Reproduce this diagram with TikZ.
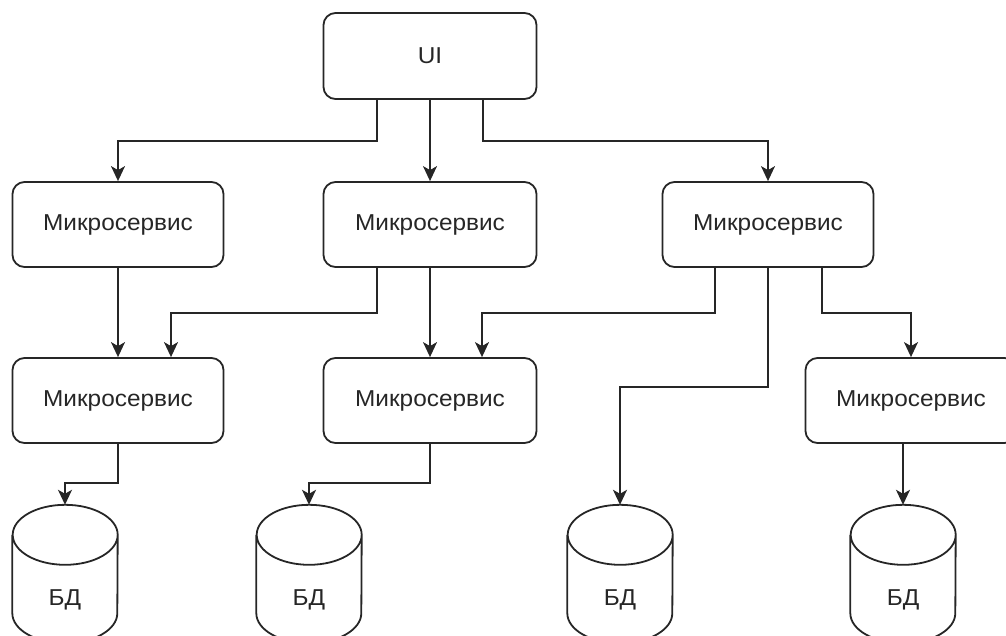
\documentclass[tikz,border=0pt]{standalone}
\usepackage{fontspec}
\setmainfont{Liberation Sans}[FakeStretch=1.06]
\usetikzlibrary{arrows.meta}
\begin{document}
\begin{tikzpicture}[x=1pt,y=-1pt,
  box/.style={draw=black!85, line width=1.8pt, rounded corners=12pt, minimum width=211pt, minimum height=85pt, inner sep=0pt, text=black!85, font=\fontsize{23}{27}\selectfont},
  arr/.style={draw=black!85, line width=1.8pt, -{Stealth[length=15pt,width=14pt,inset=4pt]}},
  dbbox/.style={draw=none, minimum width=105pt, minimum height=138pt, inner sep=0pt},
  dbline/.style={draw=black!85, line width=1.8pt},
  dbtext/.style={text=black!85, inner sep=0pt, font=\fontsize{23}{27}\selectfont}]
\useasboundingbox (0,0) rectangle (1006,635);
\clip (0,0) rectangle (1006,635);

\node[box, minimum width=213pt, minimum height=86pt] (UI) at (430,56) {UI};
\node[box] (m1) at (118,224.5) {Микросервис};
\node[box, minimum width=213pt] (m2) at (430,224.5) {Микросервис};
\node[box] (m3) at (768,224.5) {Микросервис};
\node[box] (m4) at (118,400.5) {Микросервис};
\node[box, minimum width=213pt] (m5) at (430,400.5) {Микросервис};
\node[box] (m6) at (911,400.5) {Микросервис};

\node[dbbox] (c1) at (65,574) {};
\node[dbbox] (c2) at (309,574) {};
\node[dbbox] (c3) at (620,574) {};
\node[dbbox] (c4) at (903,574) {};
\foreach \n in {c1,c2,c3,c4}{
  \draw[dbline] ([yshift=-30pt]\n.north west) -- ([yshift=30pt]\n.south west)
    arc[start angle=180, end angle=360, x radius=52.5pt, y radius=30pt]
    -- ([yshift=-30pt]\n.north east)
    arc[start angle=0, end angle=360, x radius=52.5pt, y radius=30pt];
  \node[dbtext] (t\n) at ([yshift=-26pt]\n.center) {БД};
}

\draw[arr] ([xshift=-53pt]UI.south) -- ++(0,41) -| (m1.north);
\draw[arr] (UI.south) -- (m2.north);
\draw[arr] ([xshift=53pt]UI.south) -- ++(0,41) -| (m3.north);
\draw[arr] (m1.south) -- (m4.north);
\draw[arr] ([xshift=-53pt]m2.south) -- ++(0,45) -| ([xshift=53pt]m4.north);
\draw[arr] (m2.south) -- (m5.north);
\draw[arr] ([xshift=-53pt]m3.south) -- ++(0,45) -| ([xshift=52pt]m5.north);
\draw[arr] (m3.south) -- ++(0,119) -| (c3.north);
\draw[arr] ([xshift=54pt]m3.south) -- ++(0,45) -| (m6.north);
\draw[arr] (m4.south) -- ++(0,39) -| (c1.north);
\draw[arr] (m5.south) -- ++(0,39) -| (c2.north);
\draw[arr] (m6.south -| c4.north) -- (c4.north);
\end{tikzpicture}
\end{document}
